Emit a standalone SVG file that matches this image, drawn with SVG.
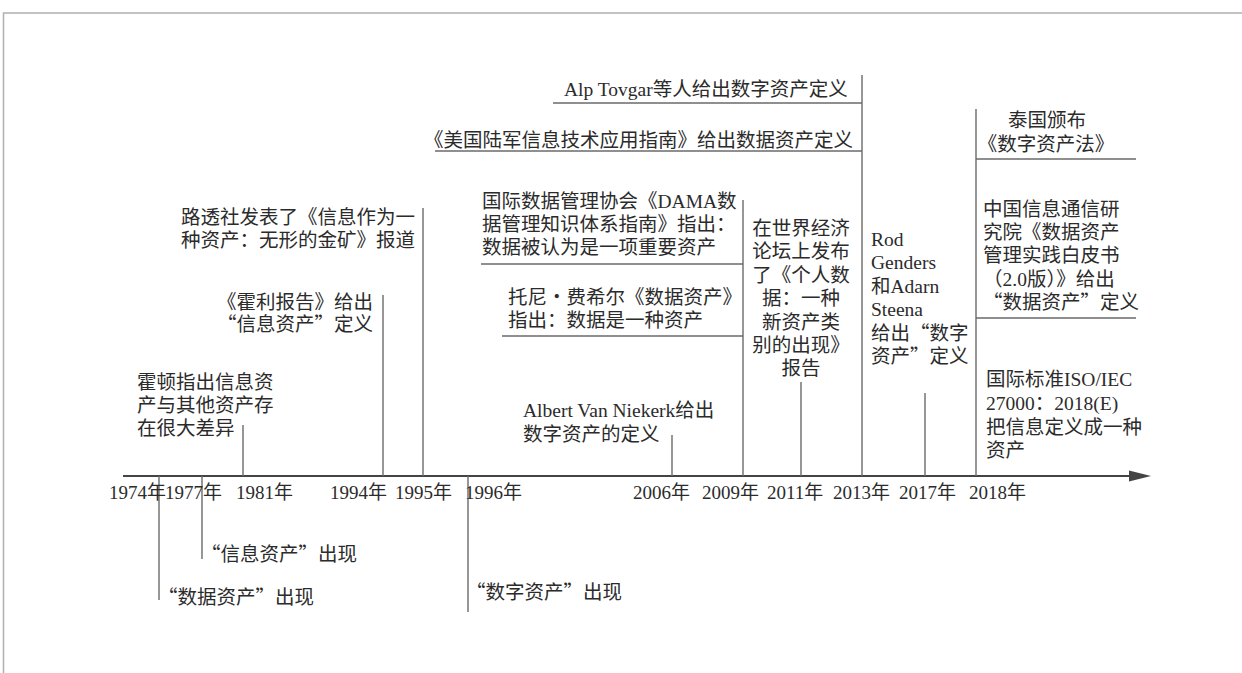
<svg xmlns="http://www.w3.org/2000/svg" width="1242" height="673" viewBox="0 0 1242 673">
<defs>
<style>
.t{font-family:"Liberation Serif","Noto Sans CJK SC",serif;font-size:19.5px;fill:#2b2b2b}
.y{font-size:19px}
.q{font-family:"Noto Sans CJK SC",sans-serif}
.c{text-anchor:middle}
.e{text-anchor:end}
.ln{stroke:#6a6a6a;stroke-width:1.4;fill:none}
.ax{stroke:#444;stroke-width:2.2;fill:none}
.fr{stroke:#b0b0b0;stroke-width:1.5;fill:none}
</style>
<marker id="ah" viewBox="0 0 22 12" refX="0" refY="6" markerWidth="22" markerHeight="12" markerUnits="userSpaceOnUse" orient="auto">
<path d="M0,0.5 L22,6 L0,11.5 Z" fill="#444"/>
</marker>
</defs>
<rect width="1242" height="673" fill="#fff"/>
<path class="fr" d="M3.5,673 V13 H1242"/>

<g id="connectors">
<line class="ax" x1="123" y1="476" x2="1129" y2="476" marker-end="url(#ah)"/>
<line class="ln" x1="159" y1="476" x2="159" y2="600"/>
<line class="ln" x1="202" y1="476" x2="202" y2="559"/>
<line class="ln" x1="243" y1="425" x2="243" y2="476"/>
<line class="ln" x1="383" y1="295" x2="383" y2="476"/>
<line class="ln" x1="423" y1="208" x2="423" y2="476"/>
<line class="ln" x1="468" y1="476" x2="468" y2="612"/>
<line class="ln" x1="672" y1="435" x2="672" y2="476"/>
<line class="ln" x1="743" y1="200" x2="743" y2="476"/>
<line class="ln" x1="801" y1="382" x2="801" y2="476"/>
<line class="ln" x1="862" y1="75" x2="862" y2="476"/>
<line class="ln" x1="925" y1="393" x2="925" y2="476"/>
<line class="ln" x1="976" y1="109" x2="976" y2="476"/>
<line class="ln" x1="553" y1="103" x2="862" y2="103"/>
<line class="ln" x1="435" y1="151" x2="862" y2="151"/>
<line class="ln" x1="481" y1="264" x2="743" y2="264"/>
<line class="ln" x1="502" y1="336" x2="743" y2="336"/>
<line class="ln" x1="976" y1="159" x2="1136" y2="159"/>
<line class="ln" x1="976" y1="318" x2="1136" y2="318"/>
</g>

<g id="years" class="t y">
<text x="109" y="499">1974年</text>
<text x="165" y="499">1977年</text>
<text x="236" y="499">1981年</text>
<text x="330" y="499">1994年</text>
<text x="395" y="499">1995年</text>
<text x="465" y="499">1996年</text>
<text x="633" y="499">2006年</text>
<text x="702" y="499">2009年</text>
<text x="767" y="499">2011年</text>
<text x="833" y="499">2013年</text>
<text x="899" y="499">2017年</text>
<text x="969" y="499">2018年</text>
</g>

<g id="n1974"><text class="t" x="158" y="604"><tspan class="q">“</tspan>数据资产<tspan class="q">”</tspan>出现</text></g>
<g id="n1977"><text class="t" x="201" y="561"><tspan class="q">“</tspan>信息资产<tspan class="q">”</tspan>出现</text></g>
<g id="n1981"><text class="t"><tspan x="137" y="389">霍顿指出信息资</tspan><tspan x="137" y="412">产与其他资产存</tspan><tspan x="137" y="435">在很大差异</tspan></text></g>
<g id="n1994"><text class="t e"><tspan x="373" y="309">《霍利报告》给出</tspan><tspan x="373" y="331"><tspan class="q">“</tspan>信息资产<tspan class="q">”</tspan>定义</tspan></text></g>
<g id="n1995"><text class="t"><tspan x="181" y="224">路透社发表了《信息作为一</tspan><tspan x="181" y="247">种资产：无形的金矿》报道</tspan></text></g>
<g id="n1996"><text class="t" x="466" y="599"><tspan class="q">“</tspan>数字资产<tspan class="q">”</tspan>出现</text></g>
<g id="n2006"><text class="t"><tspan x="523" y="417">Albert Van Niekerk给出</tspan><tspan x="523" y="441">数字资产的定义</tspan></text></g>
<g id="n2009a"><text class="t"><tspan x="482" y="208">国际数据管理协会《DAMA数</tspan><tspan x="482" y="231">据管理知识体系指南》指出：</tspan><tspan x="482" y="254">数据被认为是一项重要资产</tspan></text></g>
<g id="n2009b"><text class="t"><tspan x="508" y="304">托尼<tspan class="q">·</tspan>费希尔《数据资产》</tspan><tspan x="508" y="327">指出：数据是一种资产</tspan></text></g>
<g id="n2011"><text class="t c"><tspan x="801" y="235">在世界经济</tspan><tspan x="801" y="258.4">论坛上发布</tspan><tspan x="801" y="281.8">了《个人数</tspan><tspan x="801" y="305.2">据：一种</tspan><tspan x="801" y="328.6">新资产类</tspan><tspan x="801" y="352">别的出现》</tspan><tspan x="801" y="375.4">报告</tspan></text></g>
<g id="n2013a"><text class="t" x="564" y="96">Alp Tovgar等人给出数字资产定义</text></g>
<g id="n2013b"><text class="t" x="424" y="147">《美国陆军信息技术应用指南》给出数据资产定义</text></g>
<g id="n2013c"><text class="t"><tspan x="871" y="246">Rod</tspan><tspan x="871" y="269.4">Genders</tspan><tspan x="871" y="292.8">和Adarn</tspan><tspan x="871" y="316.2">Steena</tspan><tspan x="871" y="339.6">给出<tspan class="q">“</tspan>数字</tspan><tspan x="871" y="363">资产<tspan class="q">”</tspan>定义</tspan></text></g>
<g id="n2018a"><text class="t c"><tspan x="1047" y="127">泰国颁布</tspan><tspan x="1046" y="151">《数字资产法》</tspan></text></g>
<g id="n2018b"><text class="t"><tspan x="983" y="216">中国信息通信研</tspan><tspan x="983" y="239.2">究院《数据资产</tspan><tspan x="983" y="262.4">管理实践白皮书</tspan><tspan x="983" y="285.6">（2.0版）》给出</tspan><tspan x="983" y="308.8"><tspan class="q">“</tspan>数据资产<tspan class="q">”</tspan>定义</tspan></text></g>
<g id="n2018c"><text class="t"><tspan x="986" y="386">国际标准ISO/IEC</tspan><tspan x="986" y="410">27000：2018(E)</tspan><tspan x="986" y="433.5">把信息定义成一种</tspan><tspan x="986" y="457">资产</tspan></text></g>
</svg>
